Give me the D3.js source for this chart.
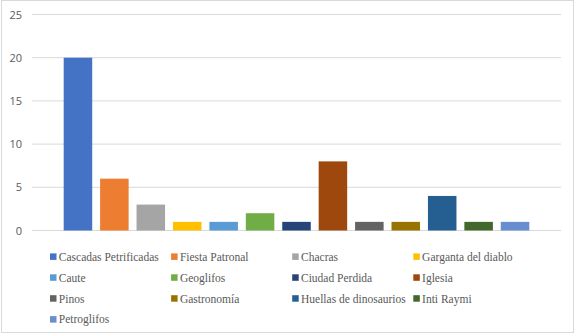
<!DOCTYPE html>
<html>
<head>
<meta charset="utf-8">
<script src="https://cdn.jsdelivr.net/npm/d3@7"></script>
<style>
  body { margin: 0; background: #fff; }
</style>
</head>
<body>
<div id="chart-container"></div>
<script>
const categories = ['Cascadas Petrificadas', 'Fiesta Patronal', 'Chacras', 'Garganta del diablo',
    'Caute', 'Geoglifos', 'Ciudad Perdida', 'Iglesia', 'Pinos', 'Gastronomía',
    'Huellas de dinosaurios', 'Inti Raymi', 'Petroglifos']
const values = [20, 6, 3, 1, 1, 2, 1, 8, 1, 1, 4, 1, 1]
const colors = ['#4472C4', '#ED7D31', '#A5A5A5', '#FFC000', '#5B9BD5', '#70AD47', '#264478',
    '#9E480E', '#636363', '#997300', '#255E91', '#43682B', '#698ED0']
const yTicks = [0, 5, 10, 15, 20, 25]

document.addEventListener('DOMContentLoaded', function(){

    const width = 576
    const height = 336
    const plot = {left: 32, right: 561, top: 14.5, bottom: 230.5}

    const svg = d3.select('#chart-container')
        .append('svg')
        .attr('width', width)
        .attr('height', height)

    svg.append('rect')
        .attr('x', 1.5).attr('y', 0.5)
        .attr('width', 572).attr('height', 332)
        .attr('fill', '#fff')
        .attr('stroke', '#d9d9d9')

    const x = d3.scaleBand()
        .domain(categories)
        .range([plot.left, plot.right])
        .paddingInner(0.217)
        .paddingOuter(0.87)

    const y = d3.scaleLinear()
        .domain([0, 25])
        .range([plot.bottom, plot.top])

    // gridlines
    svg.append('g')
        .selectAll('line')
        .data(yTicks)
        .join('line')
        .attr('x1', plot.left).attr('x2', plot.right)
        .attr('y1', d => y(d)).attr('y2', d => y(d))
        .attr('stroke', '#d9d9d9')
        .attr('stroke-width', 1)

    const yAxis = svg.append('g')
        .attr('transform', 'translate(22,0)')
        .call(d3.axisLeft(y).tickValues(yTicks).tickSize(0).tickPadding(0))
    yAxis.select('.domain').remove()
    yAxis.selectAll('text')
        .attr('font-family', '"Open Sans", "Liberation Sans", sans-serif')
        .attr('font-size', 11)
        .attr('fill', '#595959')

    svg.append('g')
        .selectAll('rect')
        .data(values)
        .join('rect')
        .attr('x', (d, i) => x(categories[i]))
        .attr('y', d => y(d))
        .attr('width', x.bandwidth())
        .attr('height', d => y(0) - y(d))
        .attr('fill', (d, i) => colors[i])

    // legend, 4 columns
    const legend = svg.append('g')
    const item = legend.selectAll('g')
        .data(categories)
        .join('g')
        .attr('transform', (d, i) => `translate(${50 + (i % 4) * 121.1}, ${256.7 + Math.floor(i / 4) * 20.9})`)

    item.append('rect')
        .attr('x', 0).attr('y', -3.3)
        .attr('width', 6.5).attr('height', 6.5)
        .attr('fill', (d, i) => colors[i])

    item.append('text')
        .attr('x', 8.8)
        .attr('dy', '0.35em')
        .attr('font-family', '"Liberation Serif", "Times New Roman", serif')
        .attr('font-size', 11.5)
        .attr('fill', '#595959')
        .text(d => d)
})
</script>
</body>
</html>
